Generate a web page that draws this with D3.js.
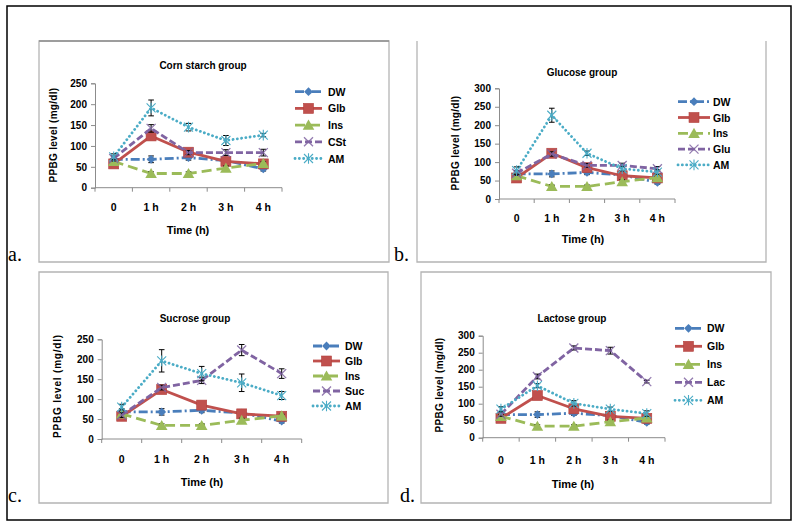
<!DOCTYPE html>
<html><head><meta charset="utf-8">
<script src="https://cdn.jsdelivr.net/npm/d3@7"></script>
<style>body{margin:0;background:#fff} svg{display:block}</style>
</head><body><svg id="c" width="798" height="528"></svg>
<script>
// ---------- data ----------
const categories = ["0", "1 h", "2 h", "3 h", "4 h"];
const panelTitles = ["Corn starch group", "Glucose group", "Sucrose group", "Lactose group"];
const panelLetters = ["a.", "b.", "c.", "d."];
const sugarNames = ["CSt", "Glu", "Suc", "Lac"];
const yMaxes = [250, 300, 250, 300];
const yTickStep = 50;

// shared control groups
const dwMean  = [68, 68, 72, 65, 45];
const dwErr   = [8, 8, 6, 5, 5];
const glbMean = [57, 124, 85, 63, 57];
const glbErr  = [5, 8, 6, 5, 4];
const insMean = [63, 34, 34, 47, 58];
const insErr  = [5, 4, 4, 5, 4];

// sugar groups
const cstMean = [70, 142, 84, 84, 84];
const cstErr  = [6, 9, 5, 7, 8];
const gluMean = [70, 122, 91, 91, 82];
const gluErr  = [6, 6, 5, 6, 6];
const sucMean = [60, 129, 147, 223, 164];
const sucErr  = [6, 6, 8, 14, 12];
const lacMean = [69, 180, 264, 256, 165];
const lacErr  = [6, 7, 6, 10, 4];

// AM groups
const amAMean = [74, 191, 145, 113, 126];
const amAErr  = [7, 19, 9, 12, 4];
const amBMean = [77, 227, 124, 82, 73];
const amBErr  = [10, 19, 6, 6, 6];
const amCMean = [80, 196, 164, 141, 109];
const amCErr  = [7, 28, 18, 22, 10];
const amDMean = [84, 153, 101, 84, 71];
const amDErr  = [7, 6, 8, 6, 8];

const sugarMeans = [cstMean, gluMean, sucMean, lacMean];
const sugarErrs  = [cstErr, gluErr, sucErr, lacErr];
const amMeans    = [amAMean, amBMean, amCMean, amDMean];
const amErrs     = [amAErr, amBErr, amCErr, amDErr];

// ---------- styles ----------
const styles = {
  DW:  {color: "#4a7ebb", dash: "9,3,2,3", width: 2.8, marker: "diamond"},
  Glb: {color: "#c0504d", dash: null,      width: 2.8, marker: "square"},
  Ins: {color: "#9bbb59", dash: "10,5",    width: 2.8, marker: "triangle"},
  Sug: {color: "#8064a2", dash: "7,3",     width: 2.8, marker: "x"},
  AM:  {color: "#4bacc6", dash: "0.1,4.2", width: 2.8, marker: "star", cap: "round"}
};

// ---------- layout ----------
const layouts = [
  {box:[39,41,389,262], top:true,  x:[95,282],   y0:187.7, yT:83.3,  title:[203,65],  yl:[53,135],  xl:[188,230], xt:207, lg:{x1:295,x2:322,tx:328,y:91.7,dy:16.7}, let:[8,261]},
  {box:[417,41,766,262], top:false, x:[499,675],  y0:199,   yT:88.3,  title:[582,72],  yl:[455,143], xl:[583,239], xt:218, lg:{x1:678,x2:710,tx:713,y:101.7,dy:15.8}, let:[394,261]},
  {box:[39,272,388,503], top:true,  x:[101.7,301.7], y0:439, yT:339.3, title:[195,318], yl:[57,386],  xl:[202,482], xt:459, lg:{x1:313,x2:340,tx:345,y:346,dy:15}, let:[8,502]},
  {box:[421,272,771,503], top:true, x:[482.7,665], y0:437.7, yT:335.7, title:[572,318], yl:[439,385], xl:[573,484], xt:460, lg:{x1:675,x2:702,tx:707,y:328.3,dy:18}, let:[400,502]}
];

const svg = d3.select("#c");
svg.append("rect").attr("width",798).attr("height",528).attr("fill","#fff");
svg.append("rect").attr("x",7).attr("y",6).attr("width",784).attr("height",514)
  .attr("fill","none").attr("stroke","#000").attr("stroke-width",1.5);

function drawMarker(g, type, color, x, y) {
  if (type === "diamond") {
    g.append("path").attr("d", `M${x},${y-4.4}L${x+4.4},${y}L${x},${y+4.4}L${x-4.4},${y}Z`).attr("fill", color);
  } else if (type === "square") {
    g.append("rect").attr("x", x-5).attr("y", y-5).attr("width", 10).attr("height", 10)
      .attr("fill", color).attr("stroke", "#b3403d").attr("stroke-width", 0.6);
  } else if (type === "triangle") {
    g.append("path").attr("d", `M${x},${y-5.5}L${x+5.8},${y+4.6}L${x-5.8},${y+4.6}Z`).attr("fill", color);
  } else if (type === "x") {
    const r = 4.5;
    g.append("path").attr("d", `M${x-r},${y-r}L${x+r},${y+r}M${x-r},${y+r}L${x+r},${y-r}`)
      .attr("stroke", color).attr("stroke-width", 1.3).attr("fill","none").attr("opacity", 0.85);
  } else if (type === "star") {
    const r = 4.5;
    g.append("path").attr("d", `M${x-r},${y-r}L${x+r},${y+r}M${x-r},${y+r}L${x+r},${y-r}M${x},${y-r-0.8}L${x},${y+r+0.8}`)
      .attr("stroke", color).attr("stroke-width", 1.1).attr("fill","none");
  }
}

layouts.forEach((L, i) => {
  const g = svg.append("g");
  const [bx1, by1, bx2, by2] = L.box;
  // panel frame
  const fr = g.append("g").attr("stroke", "#b4b4b4").attr("stroke-width", 1.3).attr("fill", "none");
  fr.append("path").attr("d", L.top
    ? `M${bx1},${by1}H${bx2}V${by2}H${bx1}Z`
    : `M${bx1},${by1}V${by2}H${bx2}V${by1}`);
  if (i === 0) fr.append("path").attr("d", `M${bx1},${by1}H${bx2}`).attr("stroke", "#8f8f8f");

  // letter label
  g.append("text").attr("x", L.let[0]).attr("y", L.let[1])
    .attr("font-family", "Liberation Serif, Times New Roman, serif").attr("font-size", 20)
    .text(panelLetters[i]);

  const x = d3.scaleBand().domain(categories).range(L.x);
  const y = d3.scaleLinear().domain([0, yMaxes[i]]).range([L.y0, L.yT]);
  const cx = c => x(c) + x.bandwidth() / 2;

  // axes
  const yAxis = d3.axisLeft(y).tickValues(d3.range(0, yMaxes[i] + 1, yTickStep)).tickSize(4).tickPadding(4);
  const yg = g.append("g").attr("transform", `translate(${L.x[0]},0)`).call(yAxis);
  yg.select(".domain").attr("stroke", "#8c8c8c").attr("stroke-width", 1);
  yg.selectAll(".tick line").attr("stroke", "#8c8c8c");
  yg.selectAll("text").attr("font-family", "Liberation Sans, Arial, sans-serif")
    .attr("font-weight", "bold").attr("font-size", 10).attr("fill", "#000");

  const xg = g.append("g").attr("transform", `translate(0,${L.y0})`);
  xg.append("line").attr("x1", L.x[0]).attr("x2", L.x[1]).attr("y1", 0).attr("y2", 0)
    .attr("stroke", "#8c8c8c").attr("stroke-width", 1);
  const bounds = categories.map(c => x(c)).concat([x(categories[categories.length-1]) + x.bandwidth()]);
  xg.selectAll("line.t").data(bounds).enter().append("line").attr("class","t")
    .attr("x1", d => d).attr("x2", d => d).attr("y1", 0).attr("y2", 4).attr("stroke", "#8c8c8c");
  g.selectAll("text.xt").data(categories).enter().append("text").attr("class","xt")
    .attr("x", d => cx(d)).attr("y", L.xt).attr("text-anchor","middle").attr("dominant-baseline","central")
    .attr("font-family", "Liberation Sans, Arial, sans-serif").attr("font-weight","bold").attr("font-size", 10.5)
    .text(d => d);

  // titles
  g.append("text").attr("x", L.title[0]).attr("y", L.title[1]).attr("text-anchor","middle")
    .attr("dominant-baseline","central").attr("font-family","Liberation Sans, Arial, sans-serif")
    .attr("font-weight","bold").attr("font-size", 10).text(panelTitles[i]);
  g.append("text").attr("x", L.xl[0]).attr("y", L.xl[1]).attr("text-anchor","middle")
    .attr("dominant-baseline","central").attr("font-family","Liberation Sans, Arial, sans-serif")
    .attr("font-weight","bold").attr("font-size", 11).text("Time (h)");
  g.append("text").attr("transform", `translate(${L.yl[0]},${L.yl[1]}) rotate(-90)`).attr("text-anchor","middle")
    .attr("dominant-baseline","central").attr("font-family","Liberation Sans, Arial, sans-serif")
    .attr("font-weight","bold").attr("font-size", 10).attr("letter-spacing", i === 2 ? 0.8 : 0.3)
    .text("PPBG level (mg/dl)");

  // series
  const series = [
    {name: "DW", st: styles.DW, m: dwMean, e: dwErr},
    {name: "Glb", st: styles.Glb, m: glbMean, e: glbErr},
    {name: "Ins", st: styles.Ins, m: insMean, e: insErr},
    {name: sugarNames[i], st: styles.Sug, m: sugarMeans[i], e: sugarErrs[i]},
    {name: "AM", st: styles.AM, m: amMeans[i], e: amErrs[i]}
  ];
  const line = d3.line().x((d, k) => cx(categories[k])).y(d => y(d));
  series.forEach(s => {
    const sg = g.append("g");
    sg.append("path").attr("d", line(s.m)).attr("fill","none").attr("stroke", s.st.color)
      .attr("stroke-width", s.st.width).attr("stroke-dasharray", s.st.dash)
      .attr("stroke-linecap", s.st.cap || "butt").attr("stroke-linejoin","round");
    s.m.forEach((v, k) => {
      const px = cx(categories[k]);
      const hi = y(v + s.e[k]), lo = y(v - s.e[k]);
      sg.append("path").attr("d", `M${px},${hi}V${lo}M${px-2.8},${hi}H${px+2.8}M${px-2.8},${lo}H${px+2.8}`)
        .attr("stroke","#000").attr("stroke-width",1).attr("fill","none");
    });
    s.m.forEach((v, k) => drawMarker(sg, s.st.marker, s.st.color, cx(categories[k]), y(v)));
  });

  // legend
  series.forEach((s, k) => {
    const ly = L.lg.y + k * L.lg.dy;
    g.append("line").attr("x1", L.lg.x1).attr("x2", L.lg.x2).attr("y1", ly).attr("y2", ly)
      .attr("stroke", s.st.color).attr("stroke-width", s.st.width).attr("stroke-dasharray", s.st.dash)
      .attr("stroke-linecap", s.st.cap || "butt");
    drawMarker(g, s.st.marker, s.st.color, (L.lg.x1 + L.lg.x2) / 2, ly);
    g.append("text").attr("x", L.lg.tx).attr("y", ly).attr("dominant-baseline","central")
      .attr("font-family","Liberation Sans, Arial, sans-serif").attr("font-weight","bold").attr("font-size", 10.5)
      .text(s.name);
  });
});
</script>
</body></html>
